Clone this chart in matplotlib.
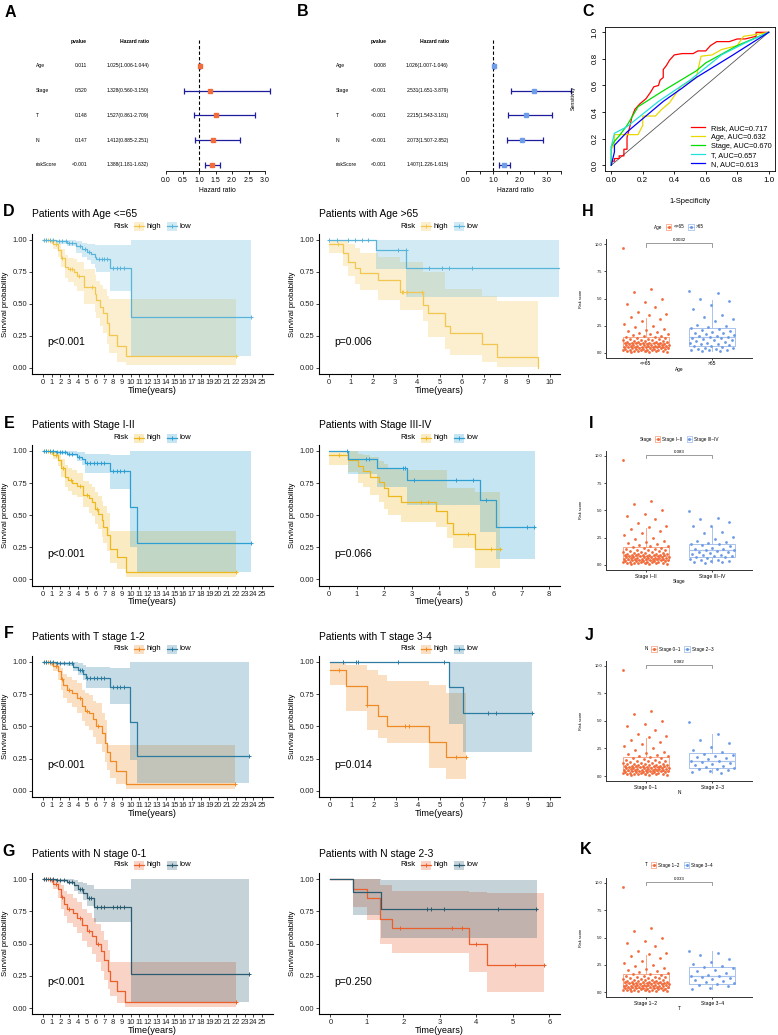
import numpy as np
import matplotlib
matplotlib.use('Agg')
import matplotlib.pyplot as plt
import matplotlib.transforms as mtransforms
from matplotlib.patches import Rectangle
from matplotlib.lines import Line2D

plt.rcParams['font.family'] = ['Liberation Sans', 'DejaVu Sans']
plt.rcParams['axes.linewidth'] = 0.7

# ---------------- forest plots (A multivariate, B univariate)
forest_vars = ['Age', 'Stage', 'T', 'N', 'riskScore']
multi_p = ['0.011', '0.520', '0.148', '0.147', '<0.001']
multi_hr = [1.025, 1.328, 1.527, 1.412, 1.388]
multi_lo = [1.006, 0.560, 0.861, 0.885, 1.181]
multi_hi = [1.044, 3.150, 2.709, 2.251, 1.632]
uni_p = ['0.008', '<0.001', '<0.001', '<0.001', '<0.001']
uni_hr = [1.026, 2.531, 2.215, 2.073, 1.407]
uni_lo = [1.007, 1.651, 1.543, 1.507, 1.226]
uni_hi = [1.046, 3.879, 3.181, 2.852, 1.615]

# ---------------- ROC curves (fpr, tpr)
roc_names = ['Risk, AUC=0.717', 'Age, AUC=0.632', 'Stage, AUC=0.670', 'T, AUC=0.657', 'N, AUC=0.613']
risk_fpr = [0, 0.0, 0.02, 0.02, 0.05, 0.05, 0.08, 0.08, 0.10, 0.10, 0.12, 0.13, 0.15, 0.18, 0.20, 0.22, 0.25,
            0.27, 0.30, 0.31, 0.33, 0.33, 0.35, 0.37, 0.40, 0.45, 0.52, 0.55, 0.60, 0.63, 0.67, 0.75, 0.80,
            0.85, 0.92, 0.92, 1.0]
risk_tpr = [0, 0.03, 0.03, 0.05, 0.05, 0.07, 0.07, 0.12, 0.12, 0.21, 0.30, 0.36, 0.42, 0.46, 0.48, 0.50, 0.55,
            0.59, 0.60, 0.64, 0.66, 0.72, 0.75, 0.79, 0.83, 0.84, 0.84, 0.86, 0.86, 0.90, 0.93, 0.93, 0.95,
            0.95, 0.97, 1.0, 1.0]
age_fpr = [0, 0, 0.02, 0.02, 0.17, 0.20, 0.20, 0.28, 0.32, 0.37, 0.44, 0.54, 0.57, 0.64, 0.70, 0.80, 0.84, 0.90, 1.0]
age_tpr = [0, 0.12, 0.16, 0.23, 0.23, 0.30, 0.37, 0.37, 0.42, 0.47, 0.59, 0.66, 0.82, 0.83, 0.87, 0.90, 0.97, 0.98, 1.0]
stage_fpr = [0, 0, 0.02, 0.05, 0.10, 0.17, 0.33, 0.54, 0.60, 0.80, 1.0]
stage_tpr = [0, 0.14, 0.18, 0.22, 0.30, 0.44, 0.56, 0.71, 0.77, 0.90, 1.0]
t_fpr = [0, 0, 0.02, 0.10, 0.30, 0.50, 0.70, 0.85, 1.0]
t_tpr = [0, 0.14, 0.24, 0.29, 0.48, 0.64, 0.83, 0.92, 1.0]
n_fpr = [0, 0.02, 0.02, 0.10, 0.20, 0.33, 0.45, 0.54, 0.76, 1.0]
n_tpr = [0, 0.10, 0.15, 0.25, 0.35, 0.48, 0.58, 0.66, 0.82, 1.0]

# ---------------- Kaplan-Meier: step times, survival, CI low, CI high, last time, censor times
d1_high_t = [0, 0.8, 1.2, 1.7, 2.1, 2.5, 2.9, 3.5, 3.9, 4.7, 5.9, 6.1, 6.5, 6.9, 7.3, 7.5, 8.4, 9.5]
d1_high_s = [1.0, 0.99, 0.97, 0.92, 0.86, 0.79, 0.77, 0.75, 0.72, 0.63, 0.58, 0.53, 0.48, 0.43, 0.35, 0.26, 0.17, 0.09]
d1_high_lo = [1.0, 0.97, 0.93, 0.87, 0.79, 0.70, 0.67, 0.64, 0.60, 0.50, 0.44, 0.39, 0.33, 0.27, 0.19, 0.12, 0.05, 0.02]
d1_high_hi = [1.0, 1.0, 1.0, 0.97, 0.93, 0.88, 0.86, 0.85, 0.83, 0.77, 0.73, 0.68, 0.65, 0.62, 0.56, 0.54, 0.54, 0.54]
d1_high_end = 22.0
d1_high_cens = [0.3, 0.6, 1.0, 1.5, 2.2, 3.1, 3.3, 4.1, 5.6, 22.0]
d1_low_t = [0, 1.5, 2.8, 3.8, 4.5, 5.0, 5.5, 5.9, 6.1, 7.6, 10.0]
d1_low_s = [1.0, 0.99, 0.98, 0.95, 0.93, 0.91, 0.89, 0.87, 0.85, 0.78, 0.395]
d1_low_lo = [1.0, 0.97, 0.95, 0.90, 0.87, 0.84, 0.81, 0.78, 0.75, 0.60, 0.095]
d1_low_hi = [1.0, 1.0, 1.0, 0.99, 0.98, 0.97, 0.97, 0.96, 0.96, 0.96, 1.0]
d1_low_end = 23.7
d1_low_cens = [0.1, 0.4, 0.8, 1.2, 1.8, 2.2, 2.6, 3.0, 3.3, 4.2, 4.8, 5.3, 6.4, 6.7, 7.0, 7.3, 8.0, 8.4, 8.8, 9.2, 23.7]

d2_high_t = [0, 0.65, 0.86, 1.2, 1.4, 2.2, 3.2, 4.27, 4.5, 5.25, 5.48, 6.9, 7.6, 9.47]
d2_high_s = [0.97, 0.90, 0.83, 0.78, 0.74, 0.69, 0.59, 0.49, 0.43, 0.33, 0.27, 0.19, 0.085, 0.0]
d2_high_lo = [0.90, 0.80, 0.72, 0.66, 0.61, 0.53, 0.45, 0.37, 0.24, 0.15, 0.10, 0.05, 0.01, 0.0]
d2_high_hi = [1.0, 1.0, 0.97, 0.94, 0.90, 0.87, 0.83, 0.75, 0.75, 0.62, 0.62, 0.56, 0.52, 0.52]
d2_high_end = 9.47
d2_high_cens = [0.4, 3.29, 3.36, 3.51, 4.19]
d2_low_t = [0, 2.15, 3.5]
d2_low_s = [1.0, 0.92, 0.78]
d2_low_lo = [1.0, 0.77, 0.555]
d2_low_hi = [1.0, 1.0, 1.0]
d2_low_end = 10.4
d2_low_cens = [0.0, 0.36, 0.86, 1.18, 1.49, 1.76, 3.14, 3.48, 4.54, 5.1, 5.44, 6.45]

e1_high_t = [0, 0.8, 1.2, 1.75, 2.1, 2.5, 2.9, 3.3, 3.84, 4.6, 5.2, 5.55, 5.9, 6.3, 6.7, 6.9, 7.3, 7.6, 8.4, 9.47]
e1_high_s = [1.0, 0.99, 0.97, 0.93, 0.865, 0.80, 0.775, 0.75, 0.73, 0.66, 0.63, 0.605, 0.55, 0.51, 0.46, 0.41,
             0.345, 0.24, 0.177, 0.06]
e1_high_lo = [1.0, 0.97, 0.94, 0.88, 0.80, 0.72, 0.69, 0.66, 0.64, 0.56, 0.52, 0.49, 0.43, 0.39, 0.33, 0.28,
              0.22, 0.13, 0.08, 0.02]
e1_high_hi = [1.0, 1.0, 1.0, 0.98, 0.94, 0.89, 0.87, 0.85, 0.83, 0.77, 0.74, 0.72, 0.68, 0.65, 0.61, 0.57,
              0.52, 0.38, 0.375, 0.375]
e1_high_end = 22.0
e1_high_cens = [0.3, 0.6, 1.0, 1.5, 2.3, 3.2, 4.2, 5.0, 6.2, 22.0]
e1_low_t = [0, 1.5, 2.7, 3.84, 4.4, 4.8, 7.64, 9.92, 10.76]
e1_low_s = [1.0, 0.99, 0.98, 0.955, 0.94, 0.91, 0.844, 0.56, 0.28]
e1_low_lo = [1.0, 0.98, 0.96, 0.92, 0.89, 0.826, 0.70, 0.25, 0.06]
e1_low_hi = [1.0, 1.0, 1.0, 0.99, 0.99, 0.98, 0.97, 1.0, 1.0]
e1_low_end = 23.7
e1_low_cens = [0.1, 0.4, 0.8, 1.2, 1.6, 1.9, 2.2, 2.5, 3.0, 3.3, 4.1, 5.0, 5.4, 5.8, 6.2, 6.6, 7.0, 8.0, 8.4,
               8.8, 9.2, 23.7]

e2_high_t = [0, 0.68, 1.06, 1.24, 1.5, 1.8, 2.0, 2.15, 2.6, 3.9, 4.3, 4.5, 5.3]
e2_high_s = [0.965, 0.93, 0.88, 0.845, 0.80, 0.755, 0.71, 0.65, 0.60, 0.532, 0.436, 0.35, 0.234]
e2_high_lo = [0.89, 0.84, 0.75, 0.72, 0.66, 0.60, 0.55, 0.50, 0.45, 0.41, 0.32, 0.247, 0.086]
e2_high_hi = [1.0, 1.0, 0.98, 0.97, 0.95, 0.92, 0.90, 0.87, 0.85, 0.85, 0.71, 0.71, 0.68]
e2_high_end = 6.2
e2_high_cens = [0.35, 3.35, 3.6, 5.07, 5.9, 6.2]
e2_low_t = [0, 0.68, 1.73, 2.83, 5.5, 6.07]
e2_low_s = [1.0, 0.935, 0.865, 0.774, 0.618, 0.41]
e2_low_lo = [1.0, 0.82, 0.72, 0.58, 0.37, 0.16]
e2_low_hi = [1.0, 1.0, 1.0, 1.0, 1.0, 1.0]
e2_low_end = 7.5
e2_low_cens = [0.65, 1.35, 1.45, 2.67, 2.75, 3.1, 4.6, 5.25, 5.7, 7.2, 7.47]

f1_high_t = [0, 0.8, 1.2, 1.75, 2.1, 2.3, 2.7, 3.3, 3.84, 4.4, 4.8, 5.2, 5.74, 6.1, 6.7, 7.1, 7.34, 7.6, 8.3, 9.43]
f1_high_s = [1.0, 0.99, 0.97, 0.93, 0.87, 0.82, 0.78, 0.76, 0.72, 0.66, 0.62, 0.60, 0.56, 0.50, 0.45, 0.37,
             0.30, 0.23, 0.15, 0.055]
f1_high_lo = [1.0, 0.97, 0.93, 0.86, 0.78, 0.72, 0.68, 0.65, 0.60, 0.54, 0.50, 0.47, 0.42, 0.36, 0.30, 0.22,
              0.16, 0.10, 0.05, 0.01]
f1_high_hi = [1.0, 1.0, 1.0, 0.98, 0.95, 0.91, 0.88, 0.86, 0.84, 0.78, 0.76, 0.74, 0.70, 0.68, 0.60, 0.55,
              0.355, 0.355, 0.355, 0.355]
f1_high_end = 21.9
f1_high_cens = [0.3, 0.6, 1.0, 1.5, 2.2, 3.0, 4.2, 5.0, 6.3, 21.9]
f1_low_t = [0, 1.5, 2.7, 3.46, 4.0, 4.6, 4.9, 7.64, 9.92, 10.7]
f1_low_s = [1.0, 0.995, 0.99, 0.964, 0.94, 0.91, 0.878, 0.808, 0.536, 0.272]
f1_low_lo = [1.0, 0.98, 0.97, 0.93, 0.90, 0.86, 0.80, 0.67, 0.24, 0.057]
f1_low_hi = [1.0, 1.0, 1.0, 1.0, 0.99, 0.98, 0.96, 0.95, 1.0, 1.0]
f1_low_end = 23.5
f1_low_cens = [0.1, 0.4, 0.8, 1.2, 1.6, 2.0, 2.4, 3.0, 3.3, 4.2, 4.5, 5.0, 5.4, 5.8, 6.2, 6.6, 7.0, 8.0, 8.4,
               8.8, 9.2, 23.5]

f2_high_t = [0, 0.71, 1.67, 2.2, 2.58, 4.51, 5.27]
f2_high_s = [0.94, 0.81, 0.666, 0.58, 0.50, 0.376, 0.26]
f2_high_lo = [0.82, 0.62, 0.47, 0.41, 0.368, 0.18, 0.088]
f2_high_hi = [1.0, 0.98, 0.94, 0.90, 0.855, 0.82, 0.76]
f2_high_end = 6.2
f2_high_cens = [0.4, 1.67, 3.4, 3.6, 5.73, 6.2]
f2_low_t = [0, 5.42, 6.03]
f2_low_s = [1.0, 0.803, 0.606]
f2_low_lo = [1.0, 0.52, 0.30]
f2_low_hi = [1.0, 1.0, 1.0]
f2_low_end = 9.17
f2_low_cens = [0.6, 1.18, 1.27, 3.1, 5.2, 7.19, 7.52, 9.17]

g1_high_t = [0, 0.8, 1.2, 1.75, 2.1, 2.4, 2.8, 3.4, 3.9, 4.5, 5.0, 5.6, 6.1, 6.6, 7.0, 7.4, 7.6, 8.4, 9.4]
g1_high_s = [1.0, 0.99, 0.96, 0.92, 0.86, 0.81, 0.77, 0.74, 0.70, 0.64, 0.60, 0.56, 0.50, 0.44, 0.37, 0.29,
             0.21, 0.13, 0.05]
g1_high_lo = [1.0, 0.97, 0.92, 0.85, 0.77, 0.71, 0.66, 0.63, 0.58, 0.52, 0.47, 0.42, 0.36, 0.29, 0.22, 0.15,
              0.09, 0.04, 0.01]
g1_high_hi = [1.0, 1.0, 1.0, 0.98, 0.95, 0.91, 0.88, 0.85, 0.82, 0.77, 0.74, 0.70, 0.65, 0.60, 0.53, 0.45,
              0.36, 0.36, 0.36]
g1_high_end = 22.0
g1_high_cens = [0.3, 0.6, 1.0, 1.5, 2.2, 3.0, 4.2, 5.2, 6.3, 22.0]
g1_low_t = [0, 1.5, 2.7, 3.5, 4.0, 4.6, 5.0, 5.8, 10.0]
g1_low_s = [1.0, 0.99, 0.98, 0.95, 0.92, 0.89, 0.85, 0.78, 0.26]
g1_low_lo = [1.0, 0.98, 0.96, 0.91, 0.88, 0.84, 0.79, 0.67, 0.05]
g1_low_hi = [1.0, 1.0, 1.0, 0.99, 0.98, 0.97, 0.95, 0.92, 1.0]
g1_low_end = 23.5
g1_low_cens = [0.1, 0.4, 0.8, 1.2, 1.6, 2.0, 2.4, 3.0, 3.3, 4.2, 4.5, 5.2, 5.5, 6.2, 6.6, 7.0, 8.0, 8.4, 8.8,
               9.2, 23.5]

g2_high_t = [0, 0.62, 1.0, 1.35, 1.7, 3.8, 4.29]
g2_high_s = [1.0, 0.92, 0.85, 0.69, 0.62, 0.50, 0.333]
g2_high_lo = [1.0, 0.78, 0.68, 0.50, 0.424, 0.28, 0.126]
g2_high_hi = [1.0, 1.0, 1.0, 0.95, 0.91, 0.90, 0.89]
g2_high_end = 5.85
g2_high_cens = [1.92, 3.33, 3.6, 3.98, 5.05, 5.85]
g2_low_t = [0, 0.62, 1.4]
g2_low_s = [1.0, 0.90, 0.767]
g2_low_lo = [1.0, 0.72, 0.54]
g2_low_hi = [1.0, 1.0, 0.99]
g2_low_end = 5.65
g2_low_cens = [2.66, 2.75, 3.1, 4.6, 5.64]

# ---------------- risk score box plots
left_scores = [9.6, 5.9, 5.6, 5.0, 4.7, 4.5, 4.2, 3.8, 3.6, 3.5, 3.3, 3.1, 2.9, 2.7, 2.5, 2.4, 2.2, 2.1, 2.0,
               1.9, 1.85, 1.78, 1.7, 1.65, 1.6, 1.52, 1.48, 1.44, 1.4, 1.36, 1.33, 1.29, 1.26, 1.22, 1.19,
               1.16, 1.13, 1.1, 1.08, 1.05, 1.03, 1.0, 0.98, 0.96, 0.95, 0.93, 0.92, 0.91, 0.9, 0.89, 0.87,
               0.85, 0.83, 0.81, 0.79, 0.77, 0.76, 0.74, 0.72, 0.7, 0.69, 0.67, 0.66, 0.64, 0.63, 0.61, 0.6,
               0.58, 0.57, 0.56, 0.55, 0.54, 0.53, 0.52, 0.51, 0.49, 0.47, 0.45, 0.44, 0.42, 0.4, 0.38, 0.37,
               0.35, 0.33, 0.32, 0.3, 0.28, 0.27, 0.25, 0.23, 0.22, 0.2, 0.18, 0.17, 0.15, 0.14, 0.12, 0.1, 0.08]
age_old_scores = [5.7, 5.5, 5.0, 4.8, 4.4, 4.0, 3.5, 3.3, 3.1, 2.9, 2.6, 2.45, 2.35, 2.3, 2.2, 2.1, 2.0, 1.95,
                  1.85, 1.8, 1.72, 1.66, 1.6, 1.55, 1.5, 1.47, 1.42, 1.36, 1.3, 1.22, 1.15, 1.08, 1.0, 0.95,
                  0.9, 0.84, 0.78, 0.72, 0.67, 0.62, 0.55, 0.5, 0.45, 0.4, 0.36, 0.32, 0.28, 0.24, 0.2, 0.16]
stage_late_scores = [4.9, 4.3, 4.2, 3.9, 3.6, 3.6, 3.0, 2.9, 2.6, 2.4, 2.2, 2.1, 2.0, 1.9, 1.9, 1.8, 1.7, 1.6,
                     1.5, 1.45, 1.4, 1.35, 1.3, 1.2, 1.15, 1.1, 1.0, 0.95, 0.9, 0.85, 0.8, 0.75, 0.7, 0.6, 0.55,
                     0.5, 0.45, 0.4, 0.35, 0.3, 0.25, 0.2]
n_late_scores = [4.9, 3.8, 3.3, 3.0, 2.6, 2.4, 2.2, 2.0, 1.9, 1.8, 1.7, 1.6, 1.5, 1.4, 1.35, 1.3, 1.2, 1.1,
                 1.0, 0.9, 0.8, 0.7, 0.65, 0.6, 0.5, 0.45, 0.35, 0.3]
t_late_scores = [3.8, 3.6, 3.4, 3.0, 2.8, 2.6, 2.4, 2.3, 2.2, 2.0, 1.9, 1.8, 1.6, 1.5, 1.45, 1.4, 1.3, 1.2,
                 1.1, 1.0, 0.9, 0.85, 0.8, 0.7, 0.6, 0.4, 0.3]
# box stats per group: q1, median, q3, lower whisker, upper whisker
h_box = [[0.52, 0.89, 1.50, 0.08, 3.18], [0.64, 1.50, 2.32, 0.16, 4.9]]
i_box = [[0.46, 0.83, 1.62, 0.08, 3.37], [0.76, 1.38, 1.93, 0.2, 3.5]]
j_box = [[0.48, 0.85, 1.70, 0.08, 3.43], [0.72, 1.35, 2.10, 0.3, 3.8]]
k_box = [[0.43, 0.85, 1.65, 0.08, 3.40], [0.80, 1.45, 2.30, 0.3, 3.8]]

W, H = 778, 1035
fig = plt.figure(figsize=(W / 100, H / 100), dpi=100)
renderer = fig.canvas.get_renderer()


def px_axes(x0, y0, x1, y1):
    return fig.add_axes([x0 / W, 1 - y1 / H, (x1 - x0) / W, (y1 - y0) / H])


def ftext(x, y, s, **kw):
    kw.setdefault('va', 'center')
    return fig.text(x / W, 1 - y / H, s, **kw)


def text_width(s, fs):
    t = fig.text(0, 0, s, fontsize=fs)
    w = t.get_window_extent(renderer).width
    t.remove()
    return w


def inline_legend(cx, cy, title, labels, fs, keyw, draw_key, g1=5, g2=3, g3=5):
    widths = [text_width(title, fs)] + [text_width(l, fs) for l in labels]
    total = widths[0] + g1 + sum(keyw + g2 + w for w in widths[1:]) + g3 * (len(labels) - 1)
    x = cx - total / 2
    ftext(x, cy, title, ha='left', fontsize=fs)
    x += widths[0] + g1
    for i, l in enumerate(labels):
        draw_key(x, cy, i)
        x += keyw + g2
        ftext(x, cy, l, ha='left', fontsize=fs)
        x += widths[i + 1] + g3


# panel letters
for k, (x, y) in {'A': (10, 12.5), 'B': (303, 12), 'C': (588, 12), 'D': (9, 212), 'E': (9, 423),
                  'F': (9, 634), 'G': (9, 851), 'H': (588, 211), 'I': (591, 424), 'J': (589, 635),
                  'K': (586, 850)}.items():
    ftext(x, y, k, ha='center', fontsize=11.5, fontweight='bold')


# ---------------- forest plots
def forest(x0, x1, xmax, xticks, xticklabels, name_x, p_x, hr_x, hr, lo, hi, pv, mcolor):
    hr, lo, hi = np.array(hr), np.array(lo), np.array(hi)
    ax = px_axes(x0, 35, x1, 171)
    ax.set_xlim(0, xmax)
    ax.set_ylim(0.758, 6.242)
    ys = np.arange(len(forest_vars), 0, -1)
    ax.plot([1, 1], [0.758, 6.05], ls=(0, (3, 2)), color='black', lw=0.8)
    eb = ax.errorbar(hr, ys, xerr=[hr - lo, hi - hr], fmt='none', ecolor='#1c1c9c',
                     elinewidth=0.9, capsize=2, capthick=0.9)
    for art in eb.get_children():
        art.set_clip_on(False)
    ax.plot(hr, ys, 's', color=mcolor, ms=3.2, clip_on=False, zorder=3)
    for sp in ['left', 'top', 'right']:
        ax.spines[sp].set_visible(False)
    ax.spines['bottom'].set_linewidth(0.6)
    ax.set_yticks([])
    ax.set_xticks(xticks)
    ax.set_xticklabels(xticklabels, fontsize=5)
    ax.tick_params(axis='x', length=2.5, width=0.6, pad=1.5)
    tr = mtransforms.blended_transform_factory(fig.transFigure, ax.transData)
    ax.text(p_x / W, 6, 'pvalue', transform=tr, ha='right', va='center', fontsize=3.6, fontweight='bold')
    ax.text(hr_x / W, 6, 'Hazard ratio', transform=tr, ha='right', va='center', fontsize=3.6, fontweight='bold')
    for i, y in enumerate(ys):
        ax.text(name_x / W, y, forest_vars[i], transform=tr, ha='left', va='center', fontsize=3.6)
        ax.text(p_x / W, y, pv[i], transform=tr, ha='right', va='center', fontsize=3.6)
        ax.text(hr_x / W, y, f'{hr[i]:.3f}({lo[i]:.3f}-{hi[i]:.3f})', transform=tr,
                ha='right', va='center', fontsize=3.6)
    ftext((x0 + x1) / 2 + 2, 191, 'Hazard ratio', ha='center', fontsize=4.9)


forest(166, 265, 3.0, np.arange(0, 3.01, 0.5), ['0.0', '0.5', '1.0', '1.5', '2.0', '2.5', '3.0'],
       36, 87, 149, multi_hr, multi_lo, multi_hi, multi_p, '#F26B3A')
forest(466, 560.5, 3.5, np.arange(0, 3.51, 0.5), ['0.0', '', '1.0', '', '2.0', '', '3.0', ''],
       336, 386.7, 448.7, uni_hr, uni_lo, uni_hi, uni_p, '#6E9CE6')

# ---------------- ROC
ax = px_axes(605, 27, 775, 170.5)
ax.plot([0, 1], [0, 1], color='#555555', lw=0.6)
for fpr, tpr, col, name in [(risk_fpr, risk_tpr, '#FF0000', roc_names[0]),
                            (age_fpr, age_tpr, '#E8D800', roc_names[1]),
                            (stage_fpr, stage_tpr, '#00DD00', roc_names[2]),
                            (t_fpr, t_tpr, '#22E0E0', roc_names[3]),
                            (n_fpr, n_tpr, '#0000FF', roc_names[4])]:
    ax.plot(fpr, tpr, color=col, lw=0.9, label=name)
ax.set_xlim(-0.04, 1.04)
ax.set_ylim(-0.04, 1.04)
ticks = [0, 0.2, 0.4, 0.6, 0.8, 1.0]
ax.set_xticks(ticks)
ax.set_xticklabels([f'{v:.1f}' for v in ticks], fontsize=5.8)
ax.set_yticks(ticks)
ax.set_yticklabels([f'{v:.1f}' for v in ticks], fontsize=5.8, rotation=90, va='center')
ax.tick_params(length=2.5, width=0.6, pad=2)
for sp in ax.spines.values():
    sp.set_linewidth(0.6)
ax.legend(loc='lower right', bbox_to_anchor=(1.0, 0.0), frameon=False, fontsize=5.3, handlelength=2.0,
          handletextpad=0.8, labelspacing=0.25, borderpad=0.2, borderaxespad=0.2)
ftext(573, 98, 'Sensitivity', rotation=90, ha='center', fontsize=3.8)
ftext(690, 202, '1-Specificity', ha='center', fontsize=5.4)


# ---------------- Kaplan-Meier panels
def km_curve(ax, t, s, lo, hi, end, color):
    tt = np.append(t, end)
    ax.fill_between(tt, np.append(lo, lo[-1]), np.append(hi, hi[-1]), step='post',
                    color=color, alpha=0.27, lw=0)
    return tt, np.append(s, s[-1])


def km_panel(x0, x1, geom, xlim, xticks, title, curves, colors, pval):
    y_one, y_zero, title_y, leg_y = geom
    ppu = y_zero - y_one
    ax = px_axes(x0, y_one - 0.05 * ppu, x1, y_zero + 0.05 * ppu)
    lines = [km_curve(ax, c[0], c[1], c[2], c[3], c[4], col) for c, col in zip(curves, colors)]
    for (tt, ss), c, col in zip(lines, curves, colors):
        ax.step(tt, ss, where='post', color=col, lw=0.9)
        idx = [np.searchsorted(c[0], v, side='right') - 1 for v in c[5]]
        ax.plot(c[5], [c[1][i] for i in idx], '+', color=col, ms=3.5, mew=0.7, clip_on=False)
    ax.set_xlim(xlim)
    ax.set_ylim(-0.05, 1.05)
    ax.set_xticks(list(xticks))
    ax.set_xticklabels([str(v) for v in xticks], fontsize=5.5)
    ax.set_yticks([0, 0.25, 0.5, 0.75, 1.0])
    ax.set_yticklabels(['0.00', '0.25', '0.50', '0.75', '1.00'], fontsize=5.5)
    ax.tick_params(length=2, width=0.6, pad=1.5, colors='#222222')
    for sp in ['top', 'right']:
        ax.spines[sp].set_visible(False)
    for sp in ['left', 'bottom']:
        ax.spines[sp].set_linewidth(0.8)
    tr = mtransforms.blended_transform_factory(ax.transAxes, ax.transData)
    ax.text(0.062, 0.2, pval, transform=tr, fontsize=7.5, va='center')
    ftext(x0, title_y, title, ha='left', fontsize=7.4)
    ftext(x0 - 26, (y_one + y_zero) / 2, 'Survival probability', rotation=90, ha='center', fontsize=5.6)
    ftext((x0 + x1) / 2, y_zero + 0.05 * ppu + 16, 'Time(years)', ha='center', fontsize=6.6)

    def key(xk, yk, i):
        col = colors[i]
        fig.add_artist(Rectangle((xk / W, 1 - (yk + 4.5) / H), 10 / W, 9 / H, transform=fig.transFigure,
                                 facecolor=col, alpha=0.27, lw=0))
        fig.add_artist(Line2D([xk / W, (xk + 10) / W], [1 - yk / H] * 2, color=col, lw=0.9))
        fig.add_artist(Line2D([(xk + 5) / W], [1 - yk / H], marker='+', color=col, ms=3.5, mew=0.7))

    inline_legend((x0 + x1) / 2, leg_y, 'Risk', ['high', 'low'], 5.6, 10, key)


km_rows = [
    ((240, 368, 214, 226), ('#F3C74F', '#5AB4DA'),
     'Patients with Age <=65', 'p<0.001',
     [(d1_high_t, d1_high_s, d1_high_lo, d1_high_hi, d1_high_end, d1_high_cens),
      (d1_low_t, d1_low_s, d1_low_lo, d1_low_hi, d1_low_end, d1_low_cens)],
     'Patients with Age >65', 'p=0.006', (-0.45, 10.45), range(11),
     [(d2_high_t, d2_high_s, d2_high_lo, d2_high_hi, d2_high_end, d2_high_cens),
      (d2_low_t, d2_low_s, d2_low_lo, d2_low_hi, d2_low_end, d2_low_cens)]),
    ((451, 579.3, 425, 438), ('#EDB81F', '#2E9FD3'),
     'Patients with Stage I-II', 'p<0.001',
     [(e1_high_t, e1_high_s, e1_high_lo, e1_high_hi, e1_high_end, e1_high_cens),
      (e1_low_t, e1_low_s, e1_low_lo, e1_low_hi, e1_low_end, e1_low_cens)],
     'Patients with Stage III-IV', 'p=0.066', (-0.37, 8.4), range(9),
     [(e2_high_t, e2_high_s, e2_high_lo, e2_high_hi, e2_high_end, e2_high_cens),
      (e2_low_t, e2_low_s, e2_low_lo, e2_low_hi, e2_low_end, e2_low_cens)]),
    ((662, 790.7, 637, 649), ('#F08A24', '#2B7CA0'),
     'Patients with T stage 1-2', 'p<0.001',
     [(f1_high_t, f1_high_s, f1_high_lo, f1_high_hi, f1_high_end, f1_high_cens),
      (f1_low_t, f1_low_s, f1_low_lo, f1_low_hi, f1_low_end, f1_low_cens)],
     'Patients with T stage 3-4', 'p=0.014', (-0.5, 10.45), range(11),
     [(f2_high_t, f2_high_s, f2_high_lo, f2_high_hi, f2_high_end, f2_high_cens),
      (f2_low_t, f2_low_s, f2_low_lo, f2_low_hi, f2_low_end, f2_low_cens)]),
    ((879, 1008, 854, 865), ('#EA5F2A', '#2A5B70'),
     'Patients with N stage 0-1', 'p<0.001',
     [(g1_high_t, g1_high_s, g1_high_lo, g1_high_hi, g1_high_end, g1_high_cens),
      (g1_low_t, g1_low_s, g1_low_lo, g1_low_hi, g1_low_end, g1_low_cens)],
     'Patients with N stage 2-3', 'p=0.250', (-0.31, 6.29), range(7),
     [(g2_high_t, g2_high_s, g2_high_lo, g2_high_hi, g2_high_end, g2_high_cens),
      (g2_low_t, g2_low_s, g2_low_lo, g2_low_hi, g2_low_end, g2_low_cens)]),
]
for geom, cols, lt, lp, lc, rt, rp, rxlim, rticks, rc in km_rows:
    km_panel(32, 273, geom, (-1.25, 26.25), range(26), lt, lc, cols, lp)
    km_panel(319, 560, geom, rxlim, rticks, rt, rc, cols, rp)


# ---------------- box plots
def box_panel(y_ten, y_zero, leg_y, var, cats, g1, g2, stats, pval):
    ppu = (y_zero - y_ten) / 10
    ax = px_axes(606, y_ten - 0.46 * ppu, 752, y_zero + 0.46 * ppu)
    ax.set_xlim(0.4, 2.6)
    ax.set_ylim(-0.46, 10.46)
    pcols = ['#F26B3A', '#6C9AE4']
    bcols = ['#F7A88A', '#A9C3EE']
    for pos, vals, st, pc, bc in zip([1, 2], [g1, g2], stats, pcols, bcols):
        ax.bxp([dict(q1=st[0], med=st[1], q3=st[2], whislo=st[3], whishi=st[4], fliers=[])],
               positions=[pos], widths=0.7, showfliers=False, showcaps=False, manage_ticks=False,
               boxprops=dict(color=bc, lw=0.7), whiskerprops=dict(color=bc, lw=0.7),
               medianprops=dict(color=bc, lw=0.9))
        jit = ((np.arange(len(vals)) * 0.618034) % 1 - 0.5) * 0.7
        ax.scatter(pos + jit, vals, s=4, color=pc, lw=0, zorder=3)
    ax.plot([1, 1, 2, 2], [9.75, 10.05, 10.05, 9.75], color='#8c8c8c', lw=0.6, clip_on=False)
    ax.text(1.5, 10.15, pval, ha='center', va='bottom', fontsize=3.2, clip_on=False)
    ax.set_xticks([1, 2])
    ax.set_xticklabels(cats, fontsize=3.6)
    ax.set_yticks([0, 2.5, 5, 7.5, 10])
    ax.set_yticklabels(['0.0', '2.5', '5.0', '7.5', '10.0'], fontsize=2.8)
    ax.tick_params(length=1.5, width=0.5, pad=1)
    for sp in ['top', 'right']:
        ax.spines[sp].set_visible(False)
    for sp in ['left', 'bottom']:
        ax.spines[sp].set_linewidth(0.7)
        ax.spines[sp].set_color('#333333')
    ftext(581, (y_ten + y_zero) / 2, 'Risk score', rotation=90, ha='center', fontsize=2.8)
    ftext(679, y_zero + 0.46 * ppu + 11, var, ha='center', fontsize=3.4)

    def key(xk, yk, i):
        fig.add_artist(Rectangle((xk / W, 1 - (yk + 2.8) / H), 5.5 / W, 5.6 / H, transform=fig.transFigure,
                                 facecolor='white', edgecolor=bcols[i], lw=0.6))
        fig.add_artist(Line2D([xk / W, (xk + 5.5) / W], [1 - yk / H] * 2, color=bcols[i], lw=0.6))
        fig.add_artist(Line2D([(xk + 2.75) / W], [1 - yk / H], marker='o', color=pcols[i], ms=1.2, lw=0))

    inline_legend(679, leg_y, var, cats, 3.3, 5.5, key, g1=3, g2=2, g3=4)


box_panel(244, 353, 227, 'Age', ['<=65', '>65'], left_scores, age_old_scores, h_box, '0.0032')
box_panel(455.7, 565, 439, 'Stage', ['Stage I~II', 'Stage III~IV'], left_scores, stage_late_scores, i_box, '0.083')
box_panel(665.7, 776, 649, 'N', ['Stage 0~1', 'Stage 2~3'], left_scores, n_late_scores, j_box, '0.082')
box_panel(882.7, 992.3, 865, 'T', ['Stage 1~2', 'Stage 3~4'], left_scores, t_late_scores, k_box, '0.033')

fig.savefig('out.png', dpi=100)
